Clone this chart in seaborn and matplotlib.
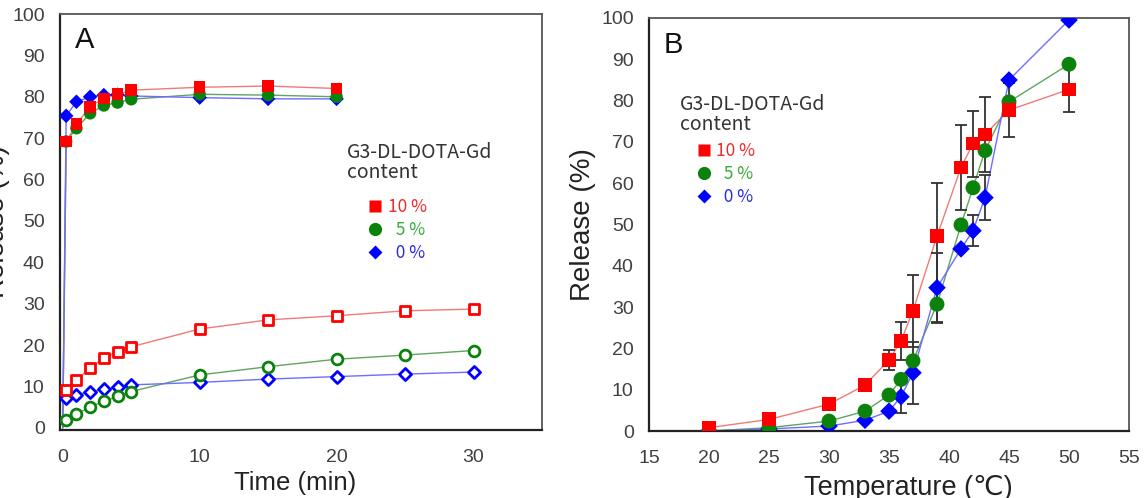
import numpy as np
import matplotlib
matplotlib.use("Agg")
import matplotlib.pyplot as plt
from matplotlib.lines import Line2D
import seaborn as sns

# ---------------- data ----------------
# Panel A: release vs time
time_filled = [0, 0.25, 1, 2, 3, 4, 5, 10, 15, 20]
red_filled = [0, 69.2, 73.4, 77.6, 79.6, 80.6, 81.6, 82.3, 82.6, 82.0]
green_filled = [0, 69.2, 72.4, 76.0, 77.9, 78.6, 79.4, 80.6, 80.4, 80.0]
blue_filled = [0, 75.4, 78.8, 80.0, 80.4, 80.5, 80.2, 79.8, 79.5, 79.5]

time_open = [0.25, 1, 2, 3, 4, 5, 10, 15, 20, 25, 30]
red_open = [9.2, 11.6, 14.5, 16.9, 18.4, 19.6, 23.9, 26.1, 27.1, 28.3, 28.7]
green_open = [1.9, 3.3, 5.1, 6.4, 7.6, 8.8, 12.8, 14.8, 16.6, 17.6, 18.7]
blue_open = [7.2, 8.0, 8.8, 9.3, 9.8, 10.4, 11.0, 11.8, 12.4, 13.0, 13.5]

# Panel B: release vs temperature
temp = [20, 25, 30, 33, 35, 36, 37, 39, 41, 42, 43, 45, 50]
red_B = [0.8, 2.8, 6.5, 11.1, 17.2, 21.8, 29.1, 47.2, 63.8, 69.6, 71.8, 77.7, 82.7]
green_B = [0, 0.8, 2.4, 4.8, 8.7, 12.5, 17.0, 30.7, 49.9, 58.9, 67.9, 79.7, 88.8]
blue_B = [0, 0.5, 1.2, 2.6, 4.8, 8.3, 14.1, 34.7, 44.1, 48.5, 56.5, 85.0, 99.5]
red_err = [0, 0, 0, 0, 2.5, 4.7, 8.7, 12.9, 10.2, 8.0, 9.0, 6.5, 5.4]
green_err = [0, 0, 0, 0, 0, 0, 0, 4.2, 0, 0, 0, 0, 0]
blue_err = [0, 0, 0, 0, 0, 3.9, 7.5, 8.5, 0, 3.7, 5.5, 0, 0]

legend_title = "G3-DL-DOTA-Gd"
legend_sub = "content"
legend_labels = ["10 %", "  5 %", "  0 %"]

# ---------------- style ----------------
sns.set_theme(style="white")
plt.rcParams["font.family"] = ["Liberation Sans", "DejaVu Sans", "Noto Sans CJK JP"]

RED, GREEN, BLUE = "#ff0000", "#0b820b", "#0000ff"
RED_L, GREEN_L, BLUE_L = "#f07a7a", "#5fa55f", "#6d6dff"
TXT_COLORS = ["#ee2a2a", "#3aaa3a", "#2a2ae6"]
CJK = ["Noto Sans CJK JP", "DejaVu Sans"]

fig = plt.figure(figsize=(11.46, 4.98), dpi=100)
axA = fig.add_axes([60 / 1146, 1 - 430 / 498, 482 / 1146, 416 / 498])
axB = fig.add_axes([649 / 1146, 1 - 431 / 498, 480 / 1146, 413 / 498])


def style_axes(ax):
    for side in ["left", "bottom"]:
        ax.spines[side].set_color("#222222")
        ax.spines[side].set_linewidth(1.6)
    for side in ["top", "right"]:
        ax.spines[side].set_color("#555555")
        ax.spines[side].set_linewidth(1.3)
    ax.tick_params(axis="both", which="major", direction="out", length=3,
                   color="#cccccc", labelsize=14, labelcolor="#404040")
    ax.tick_params(axis="y", pad=8)
    ax.tick_params(axis="x", pad=11)
    ax.grid(False)


# ---------------- panel A ----------------
for y, lc in [(red_filled, RED_L), (green_filled, GREEN_L), (blue_filled, BLUE_L)]:
    sns.lineplot(x=time_filled, y=y, ax=axA, color=lc, lw=1.0, zorder=2)
for y, lc in [(red_open, RED_L), (green_open, GREEN_L), (blue_open, BLUE_L)]:
    sns.lineplot(x=time_open, y=y, ax=axA, color=lc, lw=1.0, zorder=2)

# open markers
sns.scatterplot(x=time_open, y=blue_open, ax=axA, marker="D", s=38, color=BLUE,
                facecolor="white", edgecolor=BLUE, linewidth=2.0, zorder=3)
sns.scatterplot(x=time_open, y=green_open, ax=axA, marker="o", s=60, color=GREEN,
                facecolor="white", edgecolor=GREEN, linewidth=2.0, zorder=3)
sns.scatterplot(x=time_open, y=red_open, ax=axA, marker="s", s=48, color=RED,
                facecolor="white", edgecolor=RED, linewidth=2.0, zorder=4)
# filled markers (skip the origin point)
sns.scatterplot(x=time_filled[1:], y=blue_filled[1:], ax=axA, marker="D", s=55,
                color=BLUE, edgecolor="none", zorder=3)
sns.scatterplot(x=time_filled[1:], y=green_filled[1:], ax=axA, marker="o", s=80,
                color=GREEN, edgecolor="none", zorder=4)
sns.scatterplot(x=time_filled[1:], y=red_filled[1:], ax=axA, marker="s", s=70,
                color=RED, edgecolor="none", zorder=5)

axA.set_xlim(-0.2, 35)
axA.set_ylim(-0.5, 100)
axA.set_xticks([0, 10, 20, 30])
axA.set_yticks(np.arange(0, 101, 10))
style_axes(axA)
axA.set_xlabel("Time (min)", fontsize=18.5, color="#222222")
axA.xaxis.set_label_coords(0.4876, -0.098)
axA.set_ylabel("Release (%)", fontsize=20, color="#222222")
axA.yaxis.set_label_coords(-0.104, 0.5)
axA.text(0.031, 0.918, "A", transform=axA.transAxes, fontsize=21, color="#111111",
         va="baseline", ha="left")

# ---------------- panel B ----------------
for y, lc in [(red_B, RED_L), (green_B, GREEN_L), (blue_B, BLUE_L)]:
    sns.lineplot(x=temp, y=y, ax=axB, color=lc, lw=1.0, zorder=2)

for y, e in [(red_B, red_err), (green_B, green_err), (blue_B, blue_err)]:
    t = np.array(temp, float)
    yy = np.array(y, float)
    ee = np.array(e, float)
    m = ee > 0
    axB.errorbar(t[m], yy[m], yerr=ee[m], fmt="none", ecolor="#333333",
                 elinewidth=1.3, capsize=4, capthick=1.3, zorder=2.5)

sns.scatterplot(x=temp, y=blue_B, ax=axB, marker="D", s=80, color=BLUE,
                edgecolor="none", zorder=3)
sns.scatterplot(x=temp, y=green_B, ax=axB, marker="o", s=115, color=GREEN,
                edgecolor="none", zorder=4)
sns.scatterplot(x=temp, y=red_B, ax=axB, marker="s", s=100, color=RED,
                edgecolor="none", zorder=5)

axB.set_xlim(15, 55)
axB.set_ylim(0, 100)
axB.set_xticks(np.arange(15, 56, 5))
axB.set_yticks(np.arange(0, 101, 10))
style_axes(axB)
axB.set_xlabel("Temperature (\u2103)", fontsize=19.5, color="#222222")
axB.xaxis.set_label_coords(0.54, -0.106)
axB.set_ylabel("Release (%)", fontsize=20, color="#222222")
axB.yaxis.set_label_coords(-0.11, 0.5)
axB.text(0.031, 0.915, "B", transform=axB.transAxes, fontsize=21, color="#111111",
         va="baseline", ha="left")


# ---------------- legends ----------------
def add_legend(ax, tx, ty1, ty2, anchor, msize):
    ax.text(tx, ty1, legend_title, transform=ax.transAxes, fontsize=14,
            family=CJK, color="#333333", va="baseline")
    ax.text(tx, ty2, legend_sub, transform=ax.transAxes, fontsize=14,
            family=CJK, color="#333333", va="baseline")
    handles = [
        Line2D([], [], ls="none", marker="s", ms=msize * 0.9, color=RED, mec="none"),
        Line2D([], [], ls="none", marker="o", ms=msize, color=GREEN, mec="none"),
        Line2D([], [], ls="none", marker="D", ms=msize * 0.8, color=BLUE, mec="none"),
    ]
    leg = ax.legend(handles, legend_labels, loc="upper left", bbox_to_anchor=anchor,
                    frameon=False, handlelength=0.8, handletextpad=0.3,
                    labelspacing=0.28, borderpad=0, borderaxespad=0,
                    prop={"family": CJK, "size": 12.5})
    for t, c in zip(leg.get_texts(), TXT_COLORS):
        t.set_color(c)


add_legend(axA, 0.595, 0.654, 0.606, (0.64, 0.558), 9.5)
add_legend(axB, 0.065, 0.777, 0.729, (0.1, 0.70), 9.5)

fig.savefig("out.png", dpi=100)
